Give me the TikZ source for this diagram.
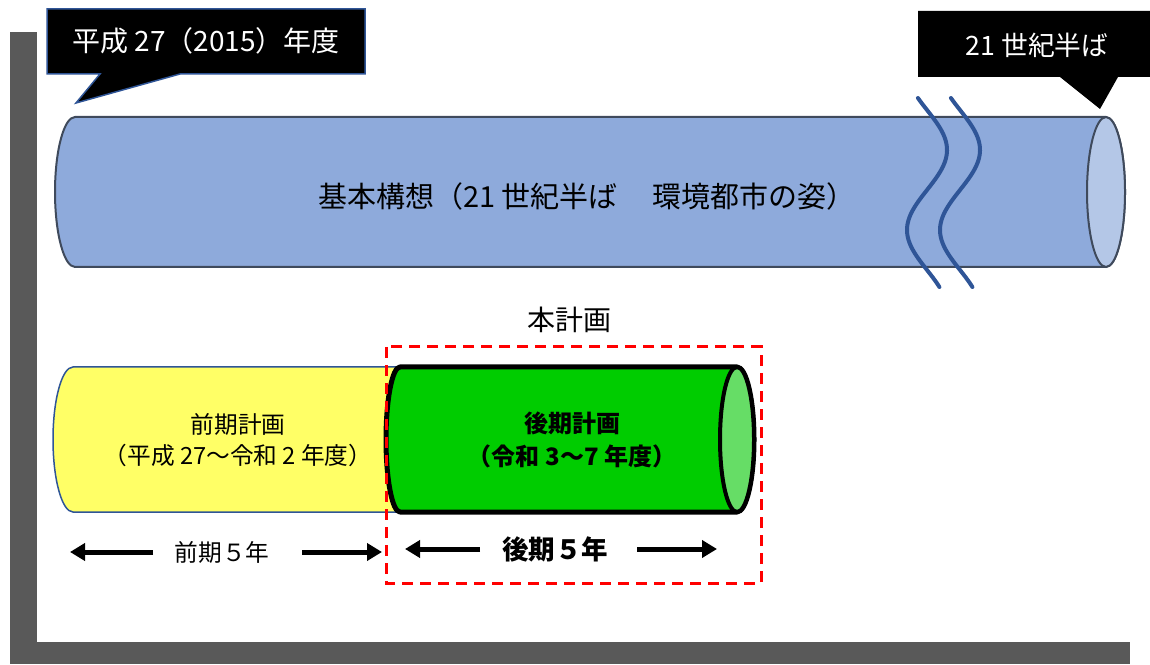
\documentclass[tikz,border=0pt]{standalone}
\usepackage{fontspec}
\setmainfont{Noto Sans CJK JP}
\usetikzlibrary{arrows.meta}
\definecolor{frame}{HTML}{595959}
\definecolor{bluebody}{HTML}{8EAADB}
\definecolor{blueface}{HTML}{B4C7E7}
\definecolor{blueedge}{HTML}{3F4A5C}
\definecolor{wavy}{HTML}{2F5597}
\definecolor{yellowbody}{HTML}{FFFF66}
\definecolor{greenbody}{HTML}{00CC00}
\definecolor{greenface}{HTML}{66DD66}
\definecolor{reddash}{HTML}{FF0000}
\tikzset{
  big/.style={font=\fontsize{28}{33}\selectfont, inner sep=0pt},
  mid/.style={font=\fontsize{23.7}{28}\selectfont, inner sep=0pt},
  midbold/.style={font=\fontsize{24}{29}\selectfont\bfseries, inner sep=0pt},
  bigbold/.style={font=\fontsize{26.5}{31}\selectfont\bfseries, inner sep=0pt},
  spanarrow/.style={line width=5pt, -{Triangle[length=15pt,width=17pt]}},
  callout/.style={fill=black, draw=wavy, line width=1.5pt, line join=miter},
  wave/.style={draw=wavy, line width=4pt, line cap=round},
}
\begin{document}
\begin{tikzpicture}[x=1pt,y=1pt]
\useasboundingbox (0,0) rectangle (1150,664);
% frame
\fill[frame] (10,0) rectangle (37,632);
\fill[frame] (10,0) rectangle (1130,22);
% blue cylinder
\draw[fill=bluebody, draw=blueedge, line width=2pt]
  (75,547) -- (1106,547) arc[start angle=90, end angle=-90, x radius=19, y radius=75]
  -- (75,397) arc[start angle=270, end angle=90, x radius=20, y radius=75] -- cycle;
\draw[fill=blueface, draw=blueedge, line width=2pt] (1106,472) ellipse[x radius=19, y radius=75];
% wavy lines
\draw[wave] plot[domain=98:287, samples=80, variable=\t] ({927+20*cos((\t-150)*2.25)}, {664-\t});
\draw[wave] plot[domain=98:287, samples=80, variable=\t] ({960+20*cos((\t-150)*2.25)}, {664-\t});
\node[big, font=\fontsize{29}{34}\selectfont] (main) at (587,468) {基本構想（21 世紀半ば\hspace{6pt}　環境都市の姿）};
% callouts
\draw[callout] (47,655) -- (365,655) -- (365,590) -- (180,590) -- (76,561) -- (100,590) -- (47,590) -- cycle;
\node[big] [text=white] (start) at (206,623) {平成 27（2015）年度};
\fill[black] (918,653) -- (1160,653) -- (1160,587) -- (1118,587) -- (1100,555) -- (1060,587) -- (918,587) -- cycle;
\node[big, font=\fontsize{26.7}{32}\selectfont, text=white] (end) at (1037,619) {21 世紀半ば};
% plan label
\node[big] (plan) at (569,344) {本計画};
% yellow cylinder
\draw[fill=yellowbody, draw=wavy, line width=1.5pt]
  (73,297) -- (405,297) -- (405,152) -- (73,152) arc[start angle=270, end angle=90, x radius=20, y radius=72.5] -- cycle;
% green cylinder
\draw[fill=greenbody, draw=black, line width=5pt, line join=round]
  (400,297) -- (737,297) arc[start angle=90, end angle=-90, x radius=17, y radius=72.5]
  -- (400,152) arc[start angle=270, end angle=90, x radius=14, y radius=72.5] -- cycle;
\draw[fill=greenface, draw=black, line width=4pt] (737,224.5) ellipse[x radius=17, y radius=72.5];
% texts
\node[mid] (zen1) at (238,240) {前期計画};
\node[mid] (zen2) at (238,209) {（平成 27～令和 2 年度）};
\node[midbold] (kou1) at (572,241) {後期計画};
\node[midbold] (kou2) at (572,208) {（令和 3～7 年度）};
% red dashed box
\draw[reddash, line width=3pt, dash pattern=on 11pt off 7pt] (386,317) rectangle (761,81);
% span arrows
\node[mid] (zen5) at (222,112) {前期５年};
\node[bigbold] (kou5) at (555,115) {後期５年};
\coordinate (zl1) at (153,112); \coordinate (zl2) at (70,112);
\coordinate (zr1) at (302,112); \coordinate (zr2) at (382,112);
\coordinate (kl1) at (480,115); \coordinate (kl2) at (405,115);
\coordinate (kr1) at (637,115); \coordinate (kr2) at (717,115);
\draw[spanarrow] (zl1) -- (zl2);
\draw[spanarrow] (zr1) -- (zr2);
\draw[spanarrow] (kl1) -- (kl2);
\draw[spanarrow] (kr1) -- (kr2);
\end{tikzpicture}
\end{document}
